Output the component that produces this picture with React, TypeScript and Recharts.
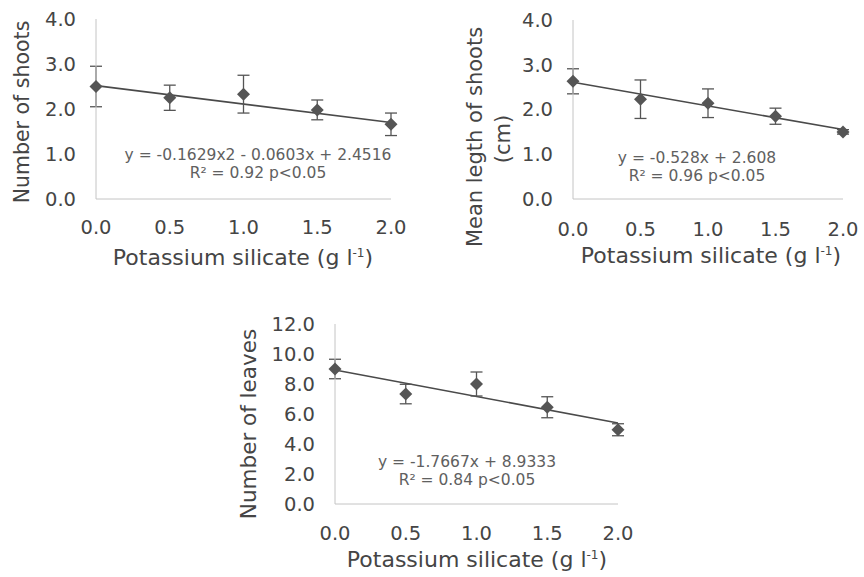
import React from "react";
import { ComposedChart, Scatter, Line, XAxis, YAxis, ErrorBar } from "recharts";

// potassium silicate doses (g l-1)
const doses = [0, 0.5, 1.0, 1.5, 2.0];

const shootsMean = [2.5, 2.25, 2.33, 1.98, 1.66];
const shootsErr = [0.45, 0.28, 0.42, 0.22, 0.25];
const shootsTrend = [2.52, 1.7];

const lengthMean = [2.63, 2.23, 2.14, 1.85, 1.5];
const lengthErr = [0.28, 0.43, 0.32, 0.18, 0.05];
const lengthTrend = [2.608, 1.552];

const leavesMean = [9.0, 7.33, 8.0, 6.45, 4.95];
const leavesErr = [0.65, 0.65, 0.8, 0.7, 0.4];
const leavesTrend = [8.93, 5.4];

const trendX = [0, 2];
const xTicks = ["0.0", "0.5", "1.0", "1.5", "2.0"];
const shootsTicks = ["0.0", "1.0", "2.0", "3.0", "4.0"];
const leavesTicks = ["0.0", "2.0", "4.0", "6.0", "8.0", "10.0", "12.0"];

const FONT = "'DejaVu Sans', Verdana, sans-serif";
const TEXT = "#454545";
const MARK = "#555555";

const Diamond = (props: any) => {
  const { cx, cy } = props;
  const r = 6.5;
  return <polygon points={`${cx},${cy - r} ${cx + r},${cy} ${cx},${cy + r} ${cx - r},${cy}`} fill={MARK} />;
};

interface PanelProps {
  left: number;
  top: number;
  width: number;
  height: number;
  margin: { top: number; right: number; bottom: number; left: number };
  yWidth: number;
  xHeight: number;
  xTickMargin: number;
  means: number[];
  errs: number[];
  trend: number[];
  yTicks: string[];
}

function Panel(p: PanelProps) {
  const points = doses.map((d, i) => ({ x: d, y: p.means[i], err: p.errs[i] }));
  const trendData = trendX.map((x, i) => ({ x, y: p.trend[i] }));
  const yNums = p.yTicks.map(Number);
  return (
    <div style={{ position: "absolute", left: p.left, top: p.top }}>
      <ComposedChart width={p.width} height={p.height} margin={p.margin}>
        <XAxis
          type="number"
          dataKey="x"
          domain={[0, 2]}
          ticks={doses}
          tickFormatter={(v: number) => xTicks[doses.indexOf(v)]}
          stroke="#c4c4c4"
          tickLine={false}
          tickSize={0}
          tickMargin={p.xTickMargin}
          height={p.xHeight}
          tick={{ fill: TEXT, fontSize: 19.5, fontFamily: FONT }}
        />
        <YAxis
          type="number"
          dataKey="y"
          domain={[0, yNums[yNums.length - 1]]}
          ticks={yNums}
          tickFormatter={(v: number) => p.yTicks[yNums.indexOf(v)]}
          stroke="#c4c4c4"
          tickLine={false}
          tickSize={0}
          tickMargin={20}
          width={p.yWidth}
          tick={{ fill: TEXT, fontSize: 19.5, fontFamily: FONT }}
        />
        <Line data={trendData} dataKey="y" stroke="#4a4a4a" strokeWidth={1.6} dot={false} isAnimationActive={false} />
        <Scatter data={points} dataKey="y" shape={Diamond} isAnimationActive={false}>
          <ErrorBar dataKey="err" direction="y" width={6} stroke={MARK} strokeWidth={1.3} />
        </Scatter>
      </ComposedChart>
    </div>
  );
}

const abs = (left: number, top: number, extra: React.CSSProperties = {}): React.CSSProperties => ({
  position: "absolute",
  left,
  top,
  fontFamily: FONT,
  color: TEXT,
  whiteSpace: "nowrap",
  ...extra,
});

function XTitle({ cx, cy, size }: { cx: number; cy: number; size: number }) {
  return (
    <div style={abs(cx, cy, { fontSize: size, lineHeight: 1.15, transform: "translate(-50%, -50%)" })}>
      Potassium silicate (g l<sup style={{ fontSize: size * 0.55, lineHeight: 0 }}>-1</sup>)
    </div>
  );
}

function YTitle({ cx, cy, text, size }: { cx: number; cy: number; text: string; size: number }) {
  return (
    <div style={abs(cx, cy, { fontSize: size, transform: "translate(-50%, -50%) rotate(-90deg)" })}>{text}</div>
  );
}

function Equation({ cx, cy, lines }: { cx: number; cy: number; lines: string[] }) {
  return (
    <div style={abs(cx, cy, { fontSize: 15.5, color: "#606060", textAlign: "center", lineHeight: "18px", transform: "translate(-50%, 0)" })}>
      {lines.map((l) => (
        <div key={l}>{l}</div>
      ))}
    </div>
  );
}

export default function App() {
  return (
    <div style={{ position: "absolute", left: 0, top: 0, width: 864, height: 577, background: "#fff", overflow: "hidden" }}>
      <Panel
        left={0}
        top={0}
        width={420}
        height={260}
        margin={{ top: 19, right: 29, bottom: 0, left: 0 }}
        yWidth={96}
        xHeight={61}
        xTickMargin={21}
        means={shootsMean}
        errs={shootsErr}
        trend={shootsTrend}
        yTicks={shootsTicks}
      />
      <Panel
        left={430}
        top={0}
        width={434}
        height={260}
        margin={{ top: 20, right: 21, bottom: 0, left: 0 }}
        yWidth={143}
        xHeight={61}
        xTickMargin={23}
        means={lengthMean}
        errs={lengthErr}
        trend={lengthTrend}
        yTicks={shootsTicks}
      />
      <Panel
        left={220}
        top={290}
        width={420}
        height={287}
        margin={{ top: 34, right: 22, bottom: 0, left: 0 }}
        yWidth={115}
        xHeight={73}
        xTickMargin={22}
        means={leavesMean}
        errs={leavesErr}
        trend={leavesTrend}
        yTicks={leavesTicks}
      />

      <YTitle cx={22} cy={112} size={20.5} text="Number of shoots" />
      <YTitle cx={475} cy={137} size={21} text="Mean legth of shoots" />
      <YTitle cx={503} cy={139} size={21} text="(cm)" />
      <YTitle cx={248} cy={424} size={21.5} text="Number of leaves" />

      <XTitle cx={243} cy={258} size={22} />
      <XTitle cx={711} cy={256} size={22} />
      <XTitle cx={477} cy={560} size={22} />

      <Equation cx={258} cy={146} lines={["y = -0.1629x2 - 0.0603x + 2.4516", "R² = 0.92 p<0.05"]} />
      <Equation cx={697} cy={149} lines={["y = -0.528x + 2.608", "R² = 0.96 p<0.05"]} />
      <Equation cx={467} cy={453} lines={["y = -1.7667x + 8.9333", "R² = 0.84 p<0.05"]} />
    </div>
  );
}
